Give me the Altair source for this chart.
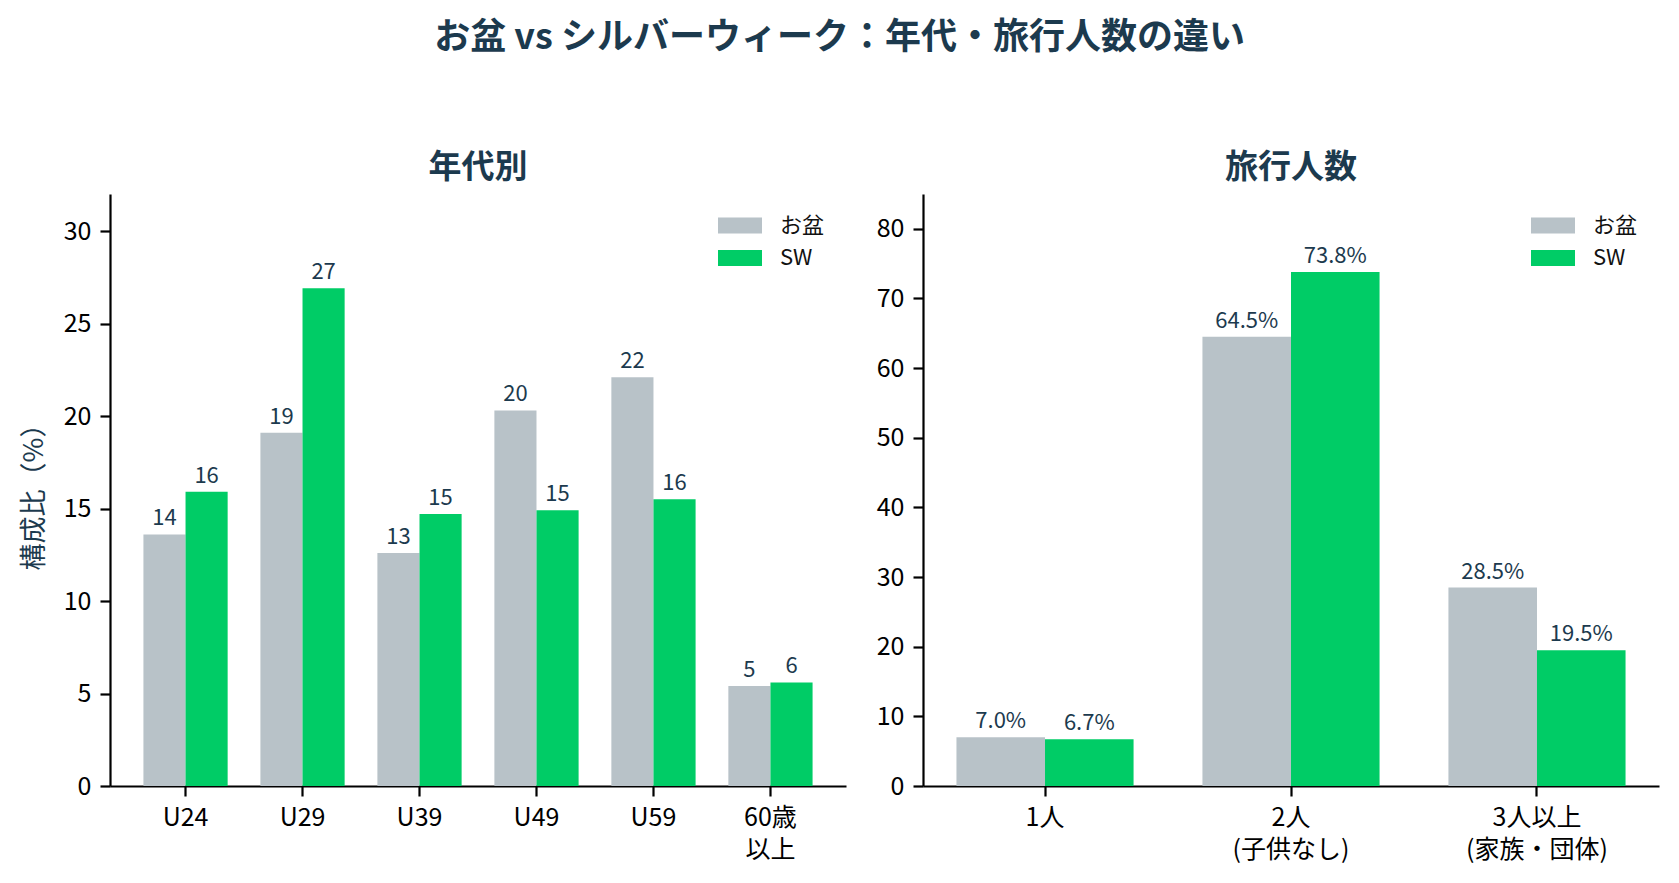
import altair as alt
import pandas as pd

# ---- data ----
age_groups = ["U24", "U29", "U39", "U49", "U59", "60歳\n以上"]
age_obon = [13.6, 19.1, 12.6, 20.3, 22.1, 5.4]
age_sw = [15.9, 26.9, 14.7, 14.9, 15.5, 5.6]

party_groups = ["1人", "2人\n(子供なし)", "3人以上\n(家族・団体)"]
party_obon = [7.0, 64.5, 28.5]
party_sw = [6.7, 73.8, 19.5]

series = ["お盆", "SW"]
colors = ["#b8c2c8", "#00cc66"]
age_ticks = [0, 5, 10, 15, 20, 25, 30]
party_ticks = [0, 10, 20, 30, 40, 50, 60, 70, 80]

FONT = "Noto Sans CJK JP"
NAVY = "#1c3a4e"


def to_long(groups, a, b):
    rows = []
    for g, va, vb in zip(groups, a, b):
        rows.append({"cat": g, "series": series[0], "value": va})
        rows.append({"cat": g, "series": series[1], "value": vb})
    return pd.DataFrame(rows)


def panel(df, groups, title, ymax, ticks, label_expr, ytitle, pad_outer):
    xenc = alt.X(
        "cat:N", sort=groups, title=None,
        scale=alt.Scale(paddingInner=0.28, paddingOuter=pad_outer),
        axis=alt.Axis(labelAngle=0, labelExpr="split(datum.label, '\\n')",
                      labelFontSize=25, labelLineHeight=32, labelPadding=9,
                      labelBaseline="top"),
    )
    xoff = alt.XOffset("series:N", sort=series,
                       scale=alt.Scale(paddingInner=0, paddingOuter=0))
    yaxis_kwargs = dict(values=ticks, labelFontSize=25, labelPadding=9)
    if ytitle:
        yaxis_kwargs.update(title=ytitle, titleFontSize=27, titleColor=NAVY,
                            titleFont=FONT, titleFontWeight="normal",
                            titlePadding=15)
    else:
        yaxis_kwargs.update(title=None)
    yenc = alt.Y("value:Q", scale=alt.Scale(domain=[0, ymax], nice=False),
                 axis=alt.Axis(**yaxis_kwargs))
    base = alt.Chart(df).encode(x=xenc, xOffset=xoff)
    bars = base.mark_bar().encode(
        y=yenc,
        color=alt.Color(
            "series:N", sort=series,
            scale=alt.Scale(domain=series, range=colors),
            legend=alt.Legend(
                title=None, orient="none", legendX=614, legendY=15.5,
                symbolType="M-1.375,-0.5H1.375V0.5H-1.375Z", symbolSize=1024,
                symbolStrokeWidth=0, symbolOpacity=1,
                labelFontSize=22, labelFont=FONT, labelColor="#111111",
                labelOffset=24, rowPadding=5.5, padding=0,
            ),
        ),
    )
    labels = base.transform_calculate(lbl=label_expr).mark_text(
        baseline="alphabetic", dy=-9, fontSize=22, font=FONT, color=NAVY
    ).encode(y=alt.Y("value:Q"), text="lbl:N")
    return alt.layer(bars, labels).properties(
        width=736, height=592,
        title=alt.TitleParams(title, fontSize=33, font=FONT, fontWeight="bold",
                              color=NAVY, offset=9),
    )


left = panel(to_long(age_groups, age_obon, age_sw), age_groups, "年代別",
             32.0, age_ticks, "format(datum.value, '.0f')", "構成比（%）", 0.2857)
right = panel(to_long(party_groups, party_obon, party_sw), party_groups, "旅行人数",
              85.0, party_ticks, "format(datum.value, '.1f') + '%'", None, 0.136)

chart = alt.hconcat(left, right, spacing=30).resolve_scale(
    color="independent", xOffset="independent", x="independent", y="independent"
).resolve_legend(color="independent").properties(
    title=alt.TitleParams("お盆 vs シルバーウィーク：年代・旅行人数の違い",
                          fontSize=36, font=FONT, fontWeight="bold", color=NAVY,
                          anchor="middle", offset=95),
    padding={"left": 12, "top": 12, "right": 10, "bottom": 5},
).configure_view(stroke=None).configure_axis(
    domainColor="#000000", domainWidth=2.2, tickColor="#000000", tickWidth=2.2,
    tickSize=10, labelFont=FONT, labelColor="#000000", grid=False,
).configure_text(font=FONT)

chart.save("out.html", embed_options={"renderer": "svg", "actions": False})
